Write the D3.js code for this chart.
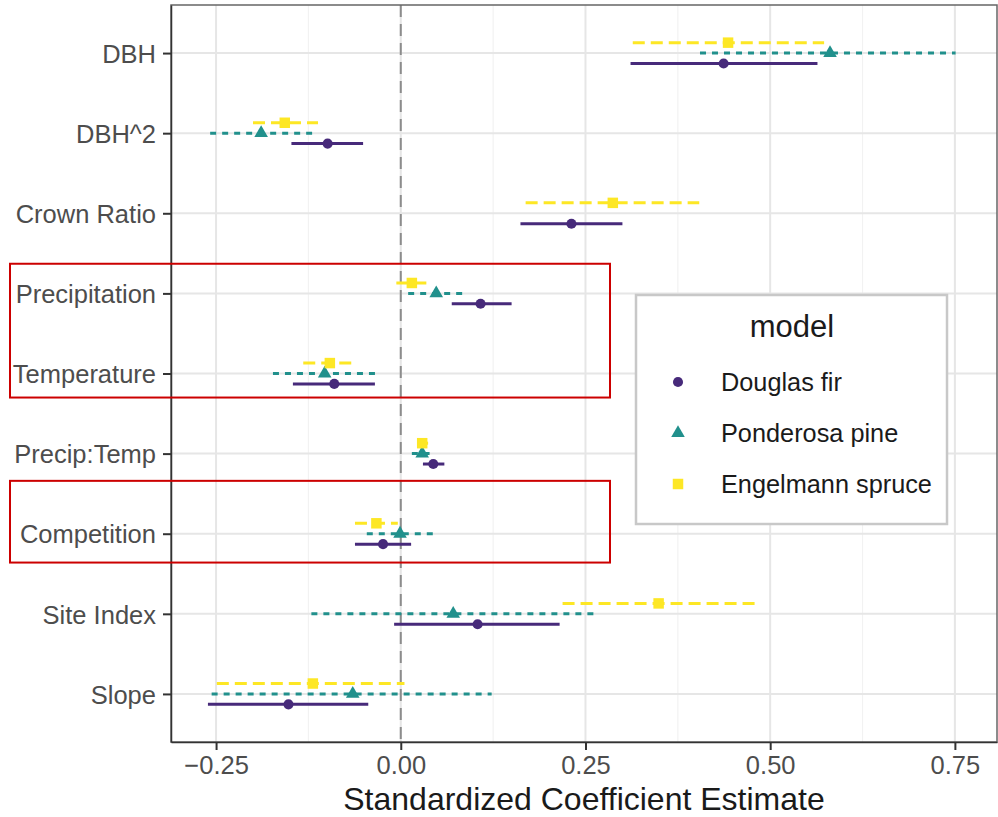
<!DOCTYPE html>
<html lang="en">
<head>
<meta charset="UTF-8">
<title>Standardized coefficients</title>
<script src="https://d3js.org/d3.v7.min.js"></script>
<style>
  body { margin: 0; background: #fff; }
  text { font-family: "Liberation Sans", Arial, sans-serif; }
  .axis text { fill: #4d4d4d; font-size: 25.5px; }
</style>
</head>
<body>
<script>
// terms, top to bottom
const terms = ["DBH", "DBH^2", "Crown Ratio", "Precipitation", "Temperature",
               "Precip:Temp", "Competition", "Site Index", "Slope"];
const models = ["Douglas fir", "Ponderosa pine", "Engelmann spruce"];
const xTicks = [-0.25, 0, 0.25, 0.5, 0.75];

// estimate, lower, upper per term (null = term not in model)
const douglasEst = [0.437, -0.099, 0.231, 0.108, -0.090, 0.044, -0.024, 0.104, -0.152];
const douglasLo  = [0.311, -0.148, 0.162, 0.069, -0.146, 0.030, -0.062, -0.009, -0.261];
const douglasHi  = [0.564, -0.051, 0.300, 0.150, -0.035, 0.059, 0.014, 0.215, -0.044];

const pineEst = [0.581, -0.189, null, 0.048, -0.103, 0.029, -0.001, 0.071, -0.065];
const pineLo  = [0.405, -0.258, null, 0.010, -0.173, 0.015, -0.046, -0.121, -0.256];
const pineHi  = [0.751, -0.120, null, 0.084, -0.034, 0.039, 0.046, 0.262, 0.123];

const spruceEst = [0.443, -0.157, 0.287, 0.015, -0.096, 0.029, -0.033, 0.349, -0.119];
const spruceLo  = [0.314, -0.200, 0.169, -0.006, -0.132, 0.022, -0.062, 0.219, -0.249];
const spruceHi  = [0.573, -0.112, 0.404, 0.035, -0.065, 0.037, -0.004, 0.483, 0.005];

const W = 998, H = 817;
const margin = {left: 171, right: 1, top: 5, bottom: 75};

const colors = {"Douglas fir": "#472A7A", "Ponderosa pine": "#21908C", "Engelmann spruce": "#FDE725"};
const dashes = {"Douglas fir": null, "Ponderosa pine": "6,6", "Engelmann spruce": "12,6"};
const shapes = {"Douglas fir": d3.symbolCircle, "Ponderosa pine": d3.symbolTriangle, "Engelmann spruce": d3.symbolSquare};
const sizes = {"Douglas fir": 80, "Ponderosa pine": 80, "Engelmann spruce": 110};
const dodge = {"Douglas fir": 1, "Ponderosa pine": 0, "Engelmann spruce": -1};

const rows = [];
const series = [[douglasEst, douglasLo, douglasHi], [pineEst, pineLo, pineHi], [spruceEst, spruceLo, spruceHi]];
series.forEach((s, mi) => {
  terms.forEach((t, i) => {
    if (s[0][i] === null) return;
    rows.push({model: models[mi], term: t, est: s[0][i], lo: s[1][i], hi: s[2][i]});
  });
});

const svg = d3.select("body").append("svg").attr("width", W).attr("height", H);

const x = d3.scaleLinear().domain([-0.311, 0.807]).range([margin.left, W - margin.right]);
const y = d3.scalePoint().domain(terms).range([margin.top, H - margin.bottom]).padding(0.6);
const step = y.step();
const off = step * 0.13;

// panel grid
const g = svg.append("g");
const minor = d3.range(-0.375, 0.8, 0.25).filter(v => v > x.domain()[0] && v < x.domain()[1]);
g.selectAll(".minor").data(minor).enter().append("line")
  .attr("x1", d => x(d)).attr("x2", d => x(d))
  .attr("y1", margin.top).attr("y2", H - margin.bottom)
  .attr("stroke", "#f2f2f2").attr("stroke-width", 1.2);
g.selectAll(".major").data(xTicks).enter().append("line")
  .attr("x1", d => x(d)).attr("x2", d => x(d))
  .attr("y1", margin.top).attr("y2", H - margin.bottom)
  .attr("stroke", "#e6e6e6").attr("stroke-width", 2);
g.selectAll(".hmajor").data(terms).enter().append("line")
  .attr("x1", margin.left).attr("x2", W - margin.right)
  .attr("y1", d => y(d)).attr("y2", d => y(d))
  .attr("stroke", "#e6e6e6").attr("stroke-width", 2);

// zero line
g.append("line")
  .attr("x1", x(0)).attr("x2", x(0))
  .attr("y1", margin.top).attr("y2", H - margin.bottom)
  .attr("stroke", "#8c8c8c").attr("stroke-width", 2)
  .attr("stroke-dasharray", "12,7");

// intervals
const marks = svg.append("g");
marks.selectAll(".ci").data(rows).enter().append("line")
  .attr("x1", d => x(d.lo)).attr("x2", d => x(d.hi))
  .attr("y1", d => y(d.term) + dodge[d.model] * off)
  .attr("y2", d => y(d.term) + dodge[d.model] * off)
  .attr("stroke", d => colors[d.model])
  .attr("stroke-width", 3)
  .attr("stroke-dasharray", d => dashes[d.model]);

marks.selectAll(".pt").data(rows).enter().append("path")
  .attr("d", d => d3.symbol().type(shapes[d.model]).size(sizes[d.model])())
  .attr("transform", d => `translate(${x(d.est)},${y(d.term) + dodge[d.model] * off})`)
  .attr("fill", d => colors[d.model]);

// panel border
svg.append("rect")
  .attr("x", margin.left).attr("y", margin.top)
  .attr("width", W - margin.right - margin.left)
  .attr("height", H - margin.bottom - margin.top)
  .attr("fill", "none").attr("stroke", "#666").attr("stroke-width", 1.5);

// axes
const xAxis = svg.append("g").attr("class", "axis")
  .attr("transform", `translate(0,${H - margin.bottom})`)
  .call(d3.axisBottom(x).tickValues(xTicks).tickFormat(d3.format(".2f"))
    .tickSize(8).tickSizeOuter(0).tickPadding(6));
const yAxis = svg.append("g").attr("class", "axis")
  .attr("transform", `translate(${margin.left},0)`)
  .call(d3.axisLeft(y).tickSize(8).tickSizeOuter(0).tickPadding(7));
[xAxis, yAxis].forEach(a => {
  a.select(".domain").attr("stroke", "#333").attr("stroke-width", 1.5);
  a.selectAll(".tick line").attr("stroke", "#333").attr("stroke-width", 2);
});
yAxis.selectAll("text").attr("dy", "0.36em");

svg.append("text")
  .attr("x", (margin.left + W - margin.right) / 2)
  .attr("y", 810)
  .attr("text-anchor", "middle")
  .attr("font-size", 32)
  .attr("fill", "#1a1a1a")
  .text("Standardized Coefficient Estimate");

// highlight boxes
const highlights = [
  {from: "Precipitation", to: "Temperature", padTop: 0.37, padBottom: 0.3},
  {from: "Competition", to: "Competition", padTop: 0.66, padBottom: 0.36}
];
svg.selectAll(".hl").data(highlights).enter().append("rect")
  .attr("x", 10).attr("width", 600)
  .attr("y", d => y(d.from) - d.padTop * step)
  .attr("height", d => y(d.to) + d.padBottom * step - (y(d.from) - d.padTop * step))
  .attr("fill", "none").attr("stroke", "#cc0000").attr("stroke-width", 2);

// legend
const lg = svg.append("g").attr("transform", "translate(636,295)");
lg.append("rect").attr("width", 311).attr("height", 229)
  .attr("fill", "#fff").attr("stroke", "#c8c8c8").attr("stroke-width", 2.5);
lg.append("text").attr("x", 156).attr("y", 42).attr("text-anchor", "middle")
  .attr("font-size", 31).attr("fill", "#1a1a1a").text("model");
const items = lg.selectAll(".item").data(models).enter().append("g")
  .attr("transform", (d, i) => `translate(42,${87 + i * 51})`);
items.append("path")
  .attr("d", d => d3.symbol().type(shapes[d]).size(sizes[d])())
  .attr("fill", d => colors[d]);
items.append("text").attr("x", 43).attr("dy", "0.36em")
  .attr("font-size", 25.3).attr("fill", "#1a1a1a").text(d => d);
</script>
</body>
</html>
